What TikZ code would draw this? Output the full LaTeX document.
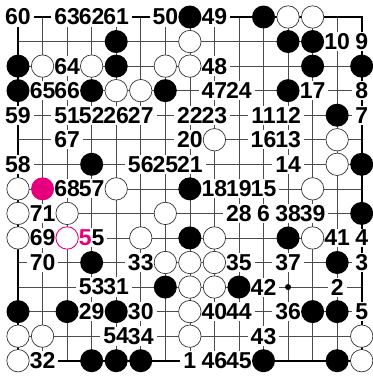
\documentclass[tikz,border=0pt]{standalone}
\usepackage{fontspec}
\newfontfamily\numfont{Liberation Sans}
\definecolor{goPink}{RGB}{230,0,126}
\tikzset{
  gridline/.style={line width=0.6pt,black!70},
  edgeline/.style={line width=1.8pt,black},
  bstone/.style={circle,fill=black,minimum size=23pt,inner sep=0pt},
  wstone/.style={circle,draw=black!80,fill=white,line width=0.7pt,minimum size=22.4pt,inner sep=0pt},
  mv/.style={inner xsep=3pt,inner ysep=1.5pt,font=\numfont\bfseries\fontsize{23}{23}\selectfont},
  mvbox/.style={mv,fill=white}
}
\def\movelist{1/1/60,3/1/63,4/1/62,5/1/61,7/1/50,9/1/49,14/2/10,15/2/9,3/3/64,9/3/48,
  2/4/65,3/4/66,9/4/47,10/4/24,13/4/17,15/4/8,1/5/59,3/5/51,4/5/52,5/5/26,6/5/27,8/5/22,9/5/23,
  11/5/11,12/5/12,15/5/7,3/6/67,8/6/20,11/6/16,12/6/13,1/7/58,6/7/56,7/7/25,8/7/21,12/7/14,
  3/8/68,4/8/57,9/8/18,10/8/19,11/8/15,2/9/71,10/9/28,11/9/6,12/9/38,13/9/39,2/10/69,14/10/41,
  15/10/4,2/11/70,6/11/33,10/11/35,12/11/37,15/11/3,4/12/53,5/12/31,11/12/42,14/12/2,4/13/29,
  6/13/30,9/13/40,10/13/44,12/13/36,15/13/5,5/14/54,6/14/34,11/14/43,2/15/32,8/15/1,9/15/46,10/15/45}

\begin{document}
\begin{tikzpicture}[x=24.55pt,y=-24.55pt]
\useasboundingbox (0.2668,0.3075) rectangle (15.46,15.623);
\foreach \i in {1,...,15} {
  \draw[gridline] (\i,1) -- (\i,15);
  \draw[gridline] (1,\i) -- (15,\i);
}
\draw[edgeline] (1,1) rectangle (15,15);
\foreach \c/\r in {4/4,12/4,8/8,4/12,12/12}
  \fill (\c,\r) circle (3pt);
% white ground under the numbers
\foreach \c/\r/\n in \movelist
  \node[mvbox] (k\n) at (\c,\r) {\phantom{\n}};
\node[mvbox] (k55) at (4,10) {\phantom{55}};
% stones
\foreach \c/\r in {8/1,11/1,5/2,12/2,13/2,1/3,5/3,13/3,15/3,1/4,4/4,7/4,12/4,14/5,4/7,15/7,8/8,15/9,8/10,12/10,4/11,14/11,7/12,10/12,1/13,3/13,5/13,13/13,14/13,4/15,5/15,6/15,11/15,14/15}
  \node[bstone] (b\c-\r) at (\c,\r) {};
\foreach \c/\r in {12/1,13/1,8/2,2/3,4/3,7/3,8/3,5/4,6/4,9/6,14/6,14/7,1/8,5/8,13/8,1/9,3/9,7/9,1/10,6/10,9/10,13/10,7/11,8/11,9/11,8/12,9/12,8/13,1/14,2/14,8/14,15/14,1/15,15/15}
  \node[wstone] (w\c-\r) at (\c,\r) {};
\node[bstone,fill=goPink] (p2-8) at (2,8) {};
\node[wstone,draw=goPink,line width=0.9pt] (p3-10) at (3,10) {};
% move numbers
\foreach \c/\r/\n in \movelist
  \node[mv] (m\n) at (\c,\r) {\n};
\node[mv] (m55) at (4,10) {\textcolor{goPink}{5}5};
\end{tikzpicture}
\end{document}
